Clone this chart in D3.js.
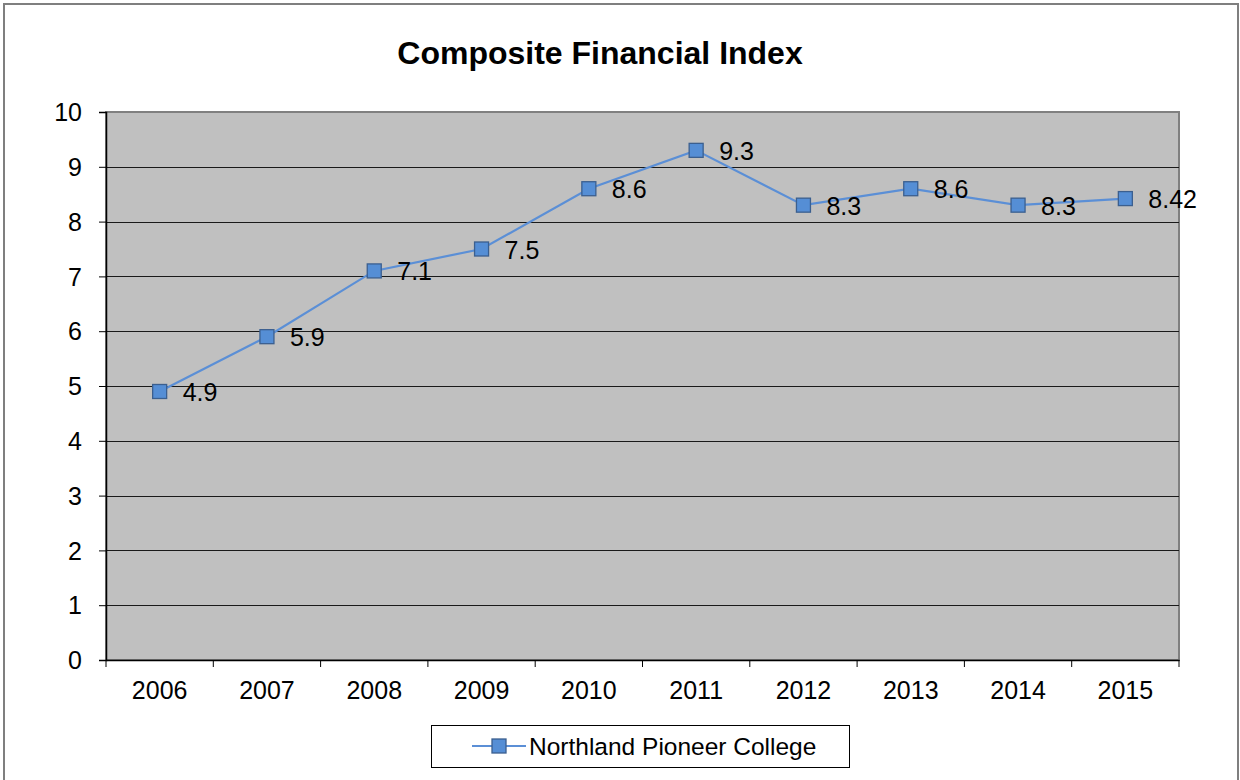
<!DOCTYPE html>
<html><head><meta charset="utf-8">
<script src="https://cdn.jsdelivr.net/npm/d3@7"></script>
<style>body{margin:0;background:#fff}svg{display:block}text{font-family:"Liberation Sans",Arial,sans-serif}</style>
</head><body><svg id="c" width="1240" height="780"></svg>
<script>
const years = ["2006","2007","2008","2009","2010","2011","2012","2013","2014","2015"];
const values = [4.9, 5.9, 7.1, 7.5, 8.6, 9.3, 8.3, 8.6, 8.3, 8.42];
const labels = ["4.9","5.9","7.1","7.5","8.6","9.3","8.3","8.6","8.3","8.42"];
const yTicks = [0,1,2,3,4,5,6,7,8,9,10];
const seriesName = "Northland Pioneer College";
const title = "Composite Financial Index";

const FF = '"Liberation Sans",Arial,sans-serif';
const svg = d3.select("#c");
const L = 106, R = 1179, T = 112, B = 660;
const x = d3.scaleBand().domain(years).range([L, R]).padding(0);
const y = d3.scaleLinear().domain([0, 10]).range([B, T]);

// outer border
svg.append("rect").attr("x", 4).attr("y", 4).attr("width", 1234).attr("height", 790)
  .attr("fill", "none").attr("stroke", "#7f7f7f").attr("stroke-width", 2);

// plot area
svg.append("rect").attr("x", L).attr("y", T).attr("width", R - L).attr("height", B - T)
  .attr("fill", "#c0c0c0").attr("stroke", "#808080").attr("stroke-width", 2);

// gridlines
svg.append("g").selectAll("line").data(yTicks.filter(d => d > 0 && d < 10)).join("line")
  .attr("x1", L).attr("x2", R).attr("y1", d => Math.round(y(d)) + 0.5).attr("y2", d => Math.round(y(d)) + 0.5)
  .attr("stroke", "#1a1a1a").attr("stroke-width", 1);

// y axis
const ya = svg.append("g").attr("transform", `translate(${L},0)`)
  .call(d3.axisLeft(y).tickValues(yTicks).tickSize(7).tickPadding(17).tickFormat(d3.format("d")));
ya.select(".domain").attr("stroke", "#000").attr("stroke-width", 1.5);
ya.selectAll(".tick line").attr("stroke", "#000");
ya.selectAll("text").attr("font-size", 25).attr("fill", "#000").attr("font-family", FF).attr("dy", "0.35em");

// x axis
const xa = svg.append("g").attr("transform", `translate(0,${B})`)
  .call(d3.axisBottom(x).tickSize(0).tickPadding(21));
xa.select(".domain").attr("stroke", "#000").attr("stroke-width", 1.5);
xa.selectAll("text").attr("font-size", 25).attr("fill", "#000").attr("font-family", FF);
// boundary ticks
const bounds = years.map(d => x(d)).concat([R]);
svg.append("g").selectAll("line").data(bounds).join("line")
  .attr("x1", d => d).attr("x2", d => d).attr("y1", B).attr("y2", B + 7)
  .attr("stroke", "#000").attr("stroke-width", 1);

// line
const cx = d => x(d) + x.bandwidth() / 2;
svg.append("path").datum(values)
  .attr("d", d3.line().x((d, i) => cx(years[i])).y(d => y(d)))
  .attr("fill", "none").attr("stroke", "#5b8fd6").attr("stroke-width", 2.2);

// markers
svg.append("g").selectAll("rect").data(values).join("rect")
  .attr("x", (d, i) => cx(years[i]) - 7).attr("y", d => y(d) - 7)
  .attr("width", 14).attr("height", 14)
  .attr("fill", "#558ed5").attr("stroke", "#3b5f8f").attr("stroke-width", 1.3);

// data labels
svg.append("g").selectAll("text").data(values).join("text")
  .attr("x", (d, i) => cx(years[i]) + 23).attr("y", d => y(d) + 9.5)
  .attr("font-size", 25).attr("fill", "#000").text((d, i) => labels[i]);

// title
svg.append("text").attr("x", 600).attr("y", 64).attr("text-anchor", "middle")
  .attr("font-size", 32).attr("font-weight", "bold").attr("fill", "#000").text(title);

// legend
const lg = svg.append("g");
lg.append("rect").attr("x", 431.5).attr("y", 725.5).attr("width", 418).attr("height", 42)
  .attr("fill", "#fff").attr("stroke", "#000").attr("stroke-width", 1);
lg.append("line").attr("x1", 472).attr("x2", 526).attr("y1", 746).attr("y2", 746)
  .attr("stroke", "#5b8fd6").attr("stroke-width", 2.2);
lg.append("rect").attr("x", 492).attr("y", 739).attr("width", 14).attr("height", 14)
  .attr("fill", "#558ed5").attr("stroke", "#3b5f8f").attr("stroke-width", 1.3);
lg.append("text").attr("x", 529).attr("y", 755).attr("font-size", 24.5).attr("fill", "#000").text(seriesName);
</script></body></html>
